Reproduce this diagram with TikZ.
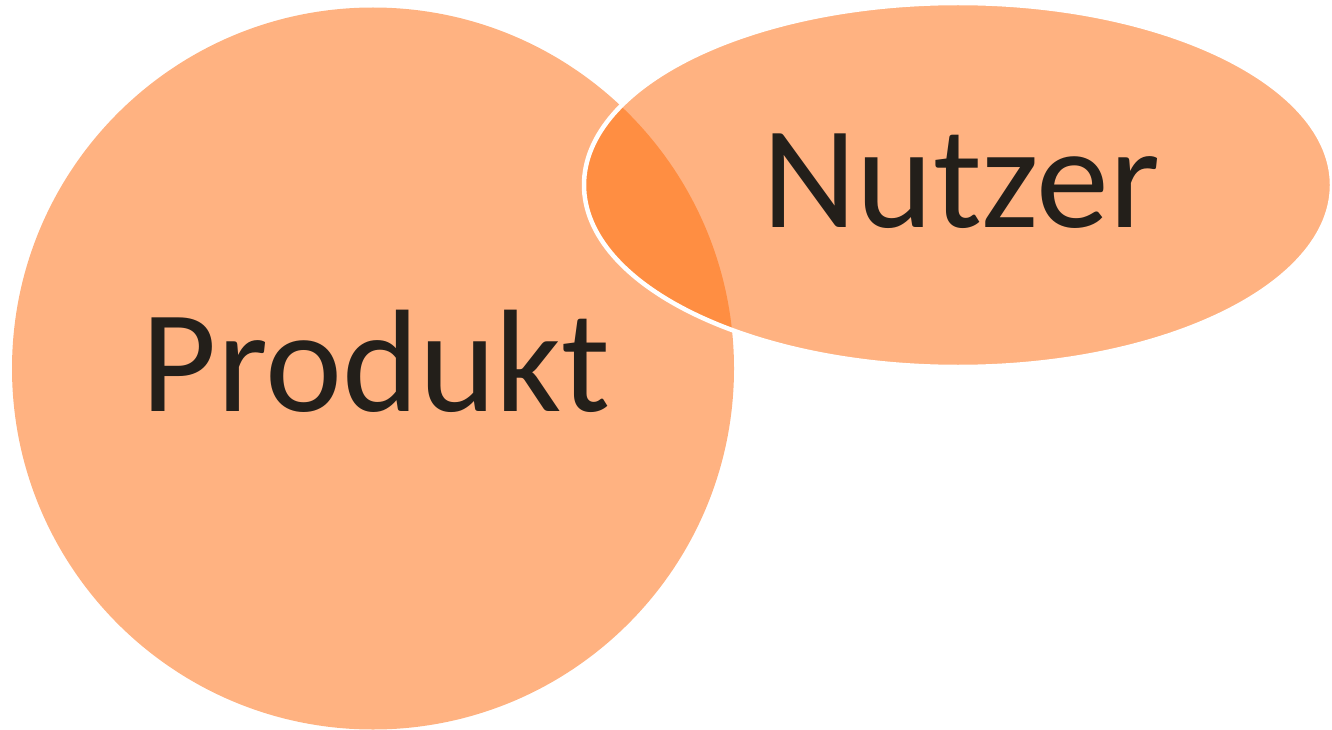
\documentclass[tikz,border=0pt]{standalone}
\usepackage{fontspec}
\setmainfont{Carlito}
\definecolor{lightor}{HTML}{FFB281}
\definecolor{darkor}{HTML}{FF8E42}
\definecolor{txt}{HTML}{231F1A}
\begin{document}
\begin{tikzpicture}[x=1pt,y=-1pt,
  lbl/.style={text=txt,font=\fontsize{146}{146}\selectfont,inner sep=0pt,anchor=base}]
\useasboundingbox (0,0) rectangle (1332,730);
\fill[lightor] (373,368.5) circle[radius=361];
\fill[lightor] (958,185) ellipse[x radius=374,y radius=182];
\begin{scope}
  \clip (373,368.5) circle[radius=361];
  \fill[darkor] (958,185) ellipse[x radius=374,y radius=182];
\end{scope}
\draw[white,line width=4.5pt] (958,185) ellipse[x radius=374,y radius=182];
\node[lbl] (produkt) at (376,411) {Produkt};
\node[lbl] (nutzer) at (961,227) {Nutzer};
\end{tikzpicture}
\end{document}
